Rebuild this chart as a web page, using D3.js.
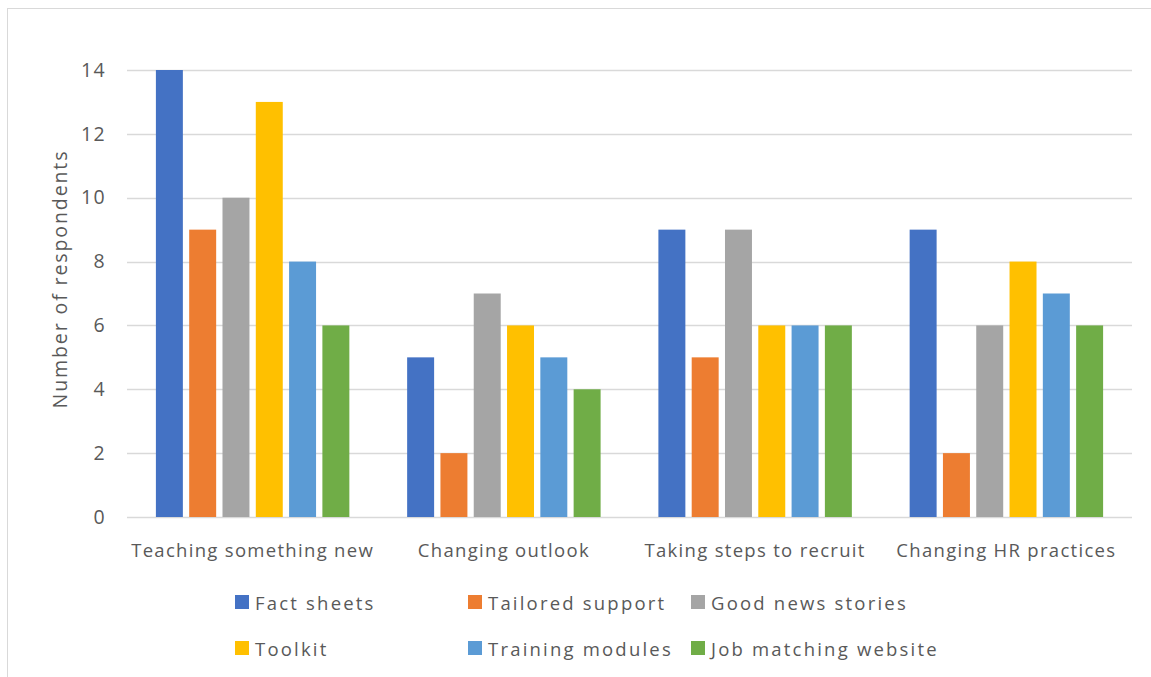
<!DOCTYPE html>
<html><head><meta charset="utf-8">
<script src="https://cdn.jsdelivr.net/npm/d3@7"></script>
<style>body{margin:0;background:#fff;}svg{display:block;}</style>
</head><body><svg id="c" width="1151" height="677"></svg>
<script>
const categories = ["Teaching something new","Changing outlook","Taking steps to recruit","Changing HR practices"];
const seriesNames = ["Fact sheets","Tailored support","Good news stories","Toolkit","Training modules","Job matching website"];
const factSheets = [14,5,9,9];
const tailoredSupport = [9,2,5,2];
const goodNewsStories = [10,7,9,6];
const toolkit = [13,6,6,8];
const trainingModules = [8,5,6,7];
const jobMatching = [6,4,6,6];
const seriesValues = [factSheets,tailoredSupport,goodNewsStories,toolkit,trainingModules,jobMatching];
const colors = ["#4472C4","#ED7D31","#A5A5A5","#FFC000","#5B9BD5","#70AD47"];
const yTicks = [0,2,4,6,8,10,12,14];

(function(){
const svg = d3.select("#c");
const font = "'Open Sans', Lato, sans-serif";
const txt = "#595959";

// outer chart border
svg.append("rect").attr("x",7.5).attr("y",8.5).attr("width",1160).attr("height",700)
  .attr("fill","none").attr("stroke","#d9d9d9").attr("stroke-width",1);

const pLeft=127, pRight=1132, pTop=70, pBottom=517;
const y = d3.scaleLinear().domain([0,14]).range([pBottom,pTop]);
const x0 = d3.scaleBand().domain(categories).range([pLeft,pRight]).paddingInner(0.23).paddingOuter(0.115);
const x1 = d3.scaleBand().domain(seriesNames).range([0,x0.bandwidth()]).paddingInner(0.19);

// gridlines
svg.append("g").selectAll("line").data(yTicks).join("line")
  .attr("x1",pLeft).attr("x2",pRight).attr("y1",d=>Math.round(y(d))+0.5).attr("y2",d=>Math.round(y(d))+0.5)
  .attr("stroke","#d9d9d9").attr("stroke-width",1.3);

// y axis labels
const yAxis = d3.axisLeft(y).tickValues(yTicks).tickSize(0).tickPadding(0);
const gy = svg.append("g").attr("transform",`translate(106,0)`).call(yAxis);
gy.select(".domain").remove();
gy.selectAll("text").attr("font-family",font).attr("font-size",19.5).attr("letter-spacing",1.4).attr("fill",txt);

// bars
const groups = svg.append("g").selectAll("g").data(categories).join("g")
  .attr("transform",d=>`translate(${x0(d)},0)`);
groups.selectAll("rect").data((d,i)=>seriesNames.map((s,j)=>({s,j,v:seriesValues[j][i]}))).join("rect")
  .attr("x",d=>x1(d.s)).attr("width",x1.bandwidth())
  .attr("y",d=>y(d.v)).attr("height",d=>y(0)-y(d.v))
  .attr("fill",d=>colors[d.j]);

// x axis labels
const xAxis = d3.axisBottom(x0).tickSize(0).tickPadding(0);
const gx = svg.append("g").attr("transform",`translate(0,${pBottom+40})`).call(xAxis);
gx.select(".domain").remove();
gx.selectAll("text").attr("font-family",font).attr("font-size",18.5).attr("letter-spacing",1.3).attr("fill",txt).attr("dy","0");

// y title
svg.append("text").attr("transform","translate(67,279) rotate(-90)").attr("text-anchor","middle")
  .attr("font-family",font).attr("font-size",19.5).attr("letter-spacing",1.9).attr("fill",txt).text("Number of respondents");

// legend
const legX = [235,468,691], legY=[595,641];
const leg = svg.append("g").selectAll("g").data(seriesNames).join("g")
  .attr("transform",(d,i)=>`translate(${legX[i%3]},${legY[Math.floor(i/3)]})`);
leg.append("rect").attr("width",14).attr("height",14).attr("fill",(d,i)=>colors[i]);
leg.append("text").attr("x",20).attr("y",14.5).attr("font-family",font).attr("font-size",18.5).attr("letter-spacing",2.2).attr("fill",txt).text(d=>d);
})();
</script></body></html>
